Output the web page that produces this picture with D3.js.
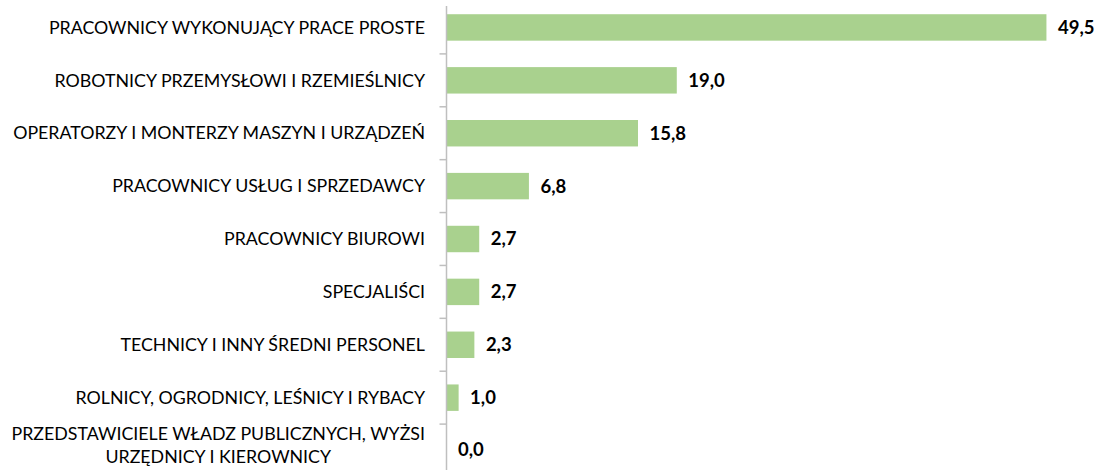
<!DOCTYPE html>
<html><head><meta charset="utf-8">
<script src="https://cdn.jsdelivr.net/npm/d3@7/dist/d3.min.js"></script>
<style>body{margin:0;background:#fff}svg{display:block}</style>
</head><body>
<svg id="chart" width="1100" height="470"></svg>
<script>
const categories = [
  "PRACOWNICY WYKONUJĄCY PRACE PROSTE",
  "ROBOTNICY PRZEMYSŁOWI I RZEMIEŚLNICY",
  "OPERATORZY I MONTERZY MASZYN I URZĄDZEŃ",
  "PRACOWNICY USŁUG I SPRZEDAWCY",
  "PRACOWNICY BIUROWI",
  "SPECJALIŚCI",
  "TECHNICY I INNY ŚREDNI PERSONEL",
  "ROLNICY, OGRODNICY, LEŚNICY I RYBACY",
  "PRZEDSTAWICIELE WŁADZ PUBLICZNYCH, WYŻSI|URZĘDNICY I KIEROWNICY"
];
const values = [49.5, 19.0, 15.8, 6.8, 2.7, 2.7, 2.3, 1.0, 0.0];

const svg = d3.select("#chart");
const x0 = 446.5;
const x = d3.scaleLinear().domain([0, 50]).range([x0, x0 + 50 * 12.12]);
const y = d3.scaleBand().domain(categories).range([1, 477]).paddingInner(0.5).paddingOuter(0.25);

const fmt = v => v.toFixed(1).replace(".", ",");

// bars
svg.append("g").selectAll("rect").data(values).join("rect")
  .attr("x", x(0))
  .attr("y", (d, i) => y(categories[i]))
  .attr("width", d => x(d) - x(0))
  .attr("height", y.bandwidth())
  .attr("fill", "#a9d18e");

// axis
const axisG = svg.append("g").attr("transform", `translate(${x0},0)`);
axisG.append("line").attr("x1", 0).attr("x2", 0).attr("y1", 6).attr("y2", 470)
  .attr("stroke", "#bfbfbf").attr("stroke-width", 1.5);
const step = y.step();
const tickYs = categories.slice(1).map(c => y(c) - step * y.paddingInner() / 2);
axisG.selectAll("line.tick").data(tickYs).join("line").attr("class", "tick")
  .attr("x1", -7).attr("x2", 0).attr("y1", d => d).attr("y2", d => d)
  .attr("stroke", "#bfbfbf").attr("stroke-width", 1.5);

// category labels
const labelX = 425;
svg.append("g").selectAll("text").data(categories).join("text")
  .attr("font-family", "Lato, 'Open Sans', sans-serif")
  .attr("font-size", 17.8)
  .attr("fill", "#000")
  .each(function(d) {
    const t = d3.select(this);
    const lines = d.split("|");
    const cy = y(d) + y.bandwidth() / 2;
    if (lines.length === 1) {
      t.attr("x", labelX).attr("y", cy).attr("dy", "0.35em").attr("text-anchor", "end").text(d);
    } else {
      t.attr("text-anchor", "middle");
      lines.forEach((ln, k) => {
        t.append("tspan").attr("x", 0).attr("y", cy - 16.5 + k * 22.5).attr("dy", "0.35em").text(ln);
      });
      const w = this.getBBox().width;
      t.selectAll("tspan").attr("x", labelX - w / 2);
    }
  });

// value labels
svg.append("g").selectAll("text").data(values).join("text")
  .attr("x", d => x(d) + 11.5)
  .attr("y", (d, i) => y(categories[i]) + y.bandwidth() / 2 + (i === categories.length - 1 ? -1 : 0))
  .attr("dy", "0.35em")
  .attr("font-family", "Lato, 'Open Sans', sans-serif")
  .attr("font-weight", "bold")
  .attr("font-size", 18.5)
  .attr("fill", "#000")
  .text(fmt);
</script>
</body></html>
